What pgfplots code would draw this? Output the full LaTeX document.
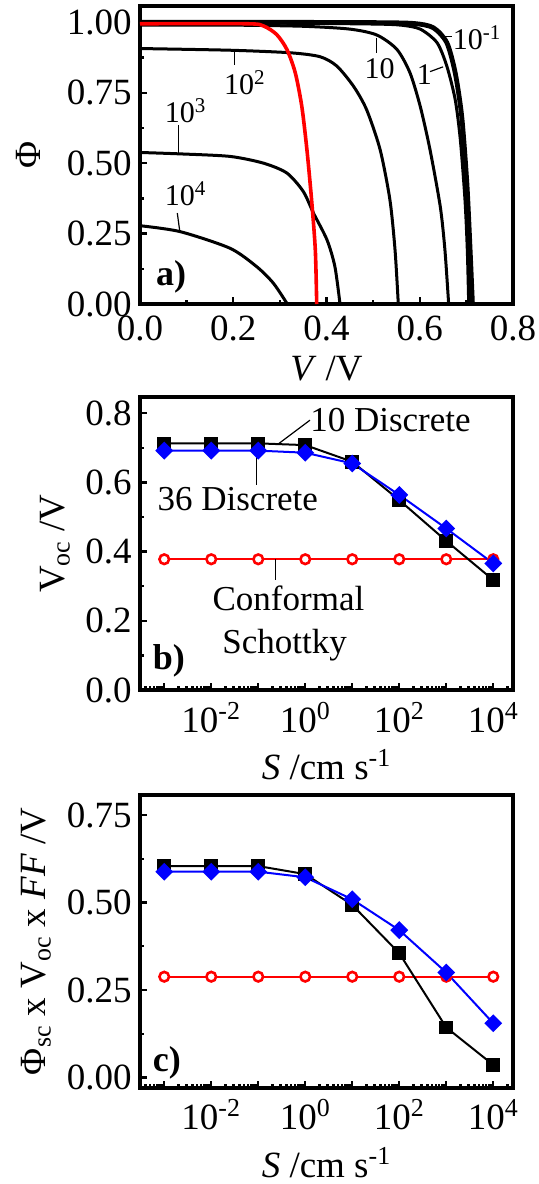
\documentclass[border=0pt]{standalone}
\usepackage{fontspec}
\setmainfont{Liberation Serif}
\usepackage{pgfplots}
\usepackage{pgfplotstable}
\pgfplotsset{compat=1.18}

% open-circuit voltage vs surface recombination velocity (panel b)
\pgfplotstableread{
S      d10    d36    conf
0.001  0.713  0.692  0.378
0.01   0.713  0.692  0.378
0.1    0.713  0.692  0.378
1      0.708  0.686  0.378
10     0.660  0.655  0.378
100    0.549  0.564  0.378
1000   0.431  0.467  0.378
10000  0.318  0.366  0.378
}\vocdata

% Phi_sc x Voc x FF (panel c)
\pgfplotstableread{
S      d10    d36    conf
0.001  0.604  0.588  0.288
0.01   0.604  0.588  0.288
0.1    0.604  0.588  0.288
1      0.581  0.572  0.288
10     0.493  0.509  0.288
100    0.355  0.421  0.288
1000   0.143  0.300  0.288
10000  0.036  0.155  0.288
}\effdata

\newcommand{\tkfont}{\fontsize{18.5}{21}\selectfont}
\newcommand{\anfont}{\fontsize{15}{17}\selectfont}
\newcommand{\bnfont}{\fontsize{17.5}{20}\selectfont}

\pgfplotsset{
  panel/.style={
    scale only axis, width=186.5pt,
    axis line style={line width=2pt},
    tick align=inside, tick pos=left,
    major tick length=3.5pt, minor tick length=1.8pt,
    every tick/.append style={black, line width=1.2pt},
    tick label style={font=\tkfont},
    /pgf/number format/assume math mode=true,
    yticklabel style={anchor=east, inner sep=0pt, xshift=-4pt},
  },
  logpanel/.style={
    panel,
    xmin=3.05e-4, xmax=2.63e4,
    xtick={1e-3,1e-2,1e-1,1,10,100,1000,10000},
    xticklabels={,10\textsuperscript{-2},,10\textsuperscript{0},,10\textsuperscript{2},,10\textsuperscript{4}},
    minor xtick={4e-4,5e-4,6e-4,7e-4,8e-4,9e-4,
      2e-3,3e-3,4e-3,5e-3,6e-3,7e-3,8e-3,9e-3,
      2e-2,3e-2,4e-2,5e-2,6e-2,7e-2,8e-2,9e-2,
      0.2,0.3,0.4,0.5,0.6,0.7,0.8,0.9,
      2,3,4,5,6,7,8,9,20,30,40,50,60,70,80,90,
      200,300,400,500,600,700,800,900,
      2000,3000,4000,5000,6000,7000,8000,9000,20000},
    xticklabel style={anchor=base, inner sep=0pt, yshift=-21pt},
    xlabel={\textit{S} /cm s\textsuperscript{-1}},
  },
  xlab/.style={every axis x label/.style={at={(axis description cs:0.5,#1)}, anchor=base, font=\tkfont}},
  ylab/.style={every axis y label/.style={at={(axis description cs:#1,0.5)}, rotate=90, anchor=center, font=\tkfont}},
  blk/.style={black, line width=1pt, mark=square*, mark size=2.9pt},
  blu/.style={blue, line width=1pt, mark=square*, mark size=2.65pt,
    mark options={rotate=45, fill=blue}},
  rcirc/.style={red, line width=1pt, mark=*, mark size=2.4pt,
    mark options={fill=white, line width=1.3pt}},
  jv/.style={black, line width=1.5pt, smooth, tension=0.45, no marks},
}

\begin{document}
\begin{tikzpicture}
\path[use as bounding box] (0pt,0pt) rectangle (269.5pt,-592pt);

% ---------- a) ----------
\begin{axis}[panel, at={(70pt,-152pt)}, anchor=south west, height=149pt,
  xmin=0, xmax=0.8, ymin=0, ymax=1.058,
  xtick={0,0.2,0.4,0.6,0.8}, minor xtick={0.1,0.3,0.5,0.7},
  ytick={0,0.25,0.5,0.75,1}, minor ytick={0.125,0.375,0.625,0.875},
  xticklabel style={anchor=base, inner sep=0pt, yshift=-18pt,
    /pgf/number format/.cd, fixed, fixed zerofill, precision=1},
  yticklabel style={/pgf/number format/.cd, fixed, fixed zerofill, precision=2},
  xlabel={\textit{V} /V}, ylabel={Φ},
  xlab=-0.258, ylab=-0.298,
]
\addplot[jv, line width=2.4pt] coordinates {
  (0,1.0) (0.3,1.0) (0.5,0.999) (0.587,0.996) (0.629,0.981) (0.658,0.928)
  (0.676,0.821) (0.690,0.666) (0.701,0.43) (0.708,0.192) (0.713,0)};
\addplot[jv] coordinates {
  (0,0.998) (0.3,0.997) (0.5,0.994) (0.560,0.99) (0.601,0.976) (0.637,0.928)
  (0.658,0.845) (0.676,0.726) (0.687,0.584) (0.697,0.37) (0.702,0.192) (0.705,0)};
\addplot[jv] coordinates {
  (0,0.99) (0.2,0.99) (0.35,0.986) (0.45,0.976) (0.508,0.955) (0.551,0.904)
  (0.579,0.821) (0.601,0.702) (0.622,0.548) (0.644,0.346) (0.654,0.192) (0.662,0)};
\addplot[jv] coordinates {
  (0,0.907) (0.193,0.901) (0.322,0.892) (0.386,0.878) (0.422,0.845) (0.458,0.773)
  (0.486,0.69) (0.515,0.548) (0.536,0.37) (0.547,0.192) (0.554,0)};
\addplot[jv] coordinates {
  (0,0.538) (0.086,0.533) (0.193,0.524) (0.265,0.50) (0.315,0.465) (0.35,0.40)
  (0.372,0.323) (0.401,0.228) (0.418,0.133) (0.429,0)};
\addplot[jv] coordinates {
  (0,0.278) (0.086,0.257) (0.193,0.198) (0.25,0.133) (0.286,0.074) (0.316,0)};
\addplot[red, line width=1.8pt, smooth, tension=0.45, no marks] coordinates {
  (0,0.995) (0.229,0.995) (0.265,0.987) (0.293,0.957) (0.315,0.904) (0.333,0.821)
  (0.347,0.702) (0.358,0.548) (0.368,0.37) (0.376,0.192) (0.379,0)};

\draw[line width=0.6pt] (axis cs:0.646,0.949) -- (axis cs:0.670,0.949);
\node[font=\anfont, anchor=west, inner sep=0pt] at (axis cs:0.670,0.945) {10\textsuperscript{-1}};
\draw[line width=0.6pt] (axis cs:0.622,0.825) -- (axis cs:0.650,0.842);
\node[font=\anfont, inner sep=0pt] at (axis cs:0.610,0.815) {1};
\draw[line width=0.6pt] (axis cs:0.508,0.945) -- (axis cs:0.508,0.89);
\node[font=\anfont, inner sep=0pt] at (axis cs:0.514,0.834) {10};
\draw[line width=0.6pt] (axis cs:0.203,0.898) -- (axis cs:0.203,0.848);
\node[font=\anfont, inner sep=0pt] at (axis cs:0.225,0.785) {10\textsuperscript{2}};
\draw[line width=0.6pt] (axis cs:0.082,0.635) -- (axis cs:0.082,0.534);
\node[font=\anfont, inner sep=0pt] at (axis cs:0.098,0.687) {10\textsuperscript{3}};
\draw[line width=0.6pt] (axis cs:0.080,0.323) -- (axis cs:0.085,0.262);
\node[font=\anfont, inner sep=0pt] at (axis cs:0.098,0.392) {10\textsuperscript{4}};
\node[font=\fontsize{18}{20}\selectfont\bfseries, inner sep=0pt] at (axis cs:0.067,0.098) {a)};
\end{axis}

% ---------- b) ----------
\begin{semilogxaxis}[logpanel, at={(70pt,-345pt)}, anchor=south west, height=146.5pt,
  ymin=0, ymax=0.847,
  ytick={0,0.2,0.4,0.6,0.8}, minor ytick={0.1,0.3,0.5,0.7},
  yticklabel style={/pgf/number format/.cd, fixed, fixed zerofill, precision=1},
  ylabel={V\textsubscript{oc} /V},
  xlab=-0.305, ylab=-0.228,
]
\addplot[rcirc] table[x=S, y=conf] {\vocdata};
\addplot[blk] table[x=S, y=d10] {\vocdata};
\addplot[blu] table[x=S, y=d36] {\vocdata};

\draw[line width=0.6pt] (axis cs:0.277,0.713) -- (axis cs:1.26,0.78);
\node[font=\bnfont, anchor=base west, inner sep=0pt] at (axis cs:1.26,0.747) {10 Discrete};
\draw[line width=0.6pt] (axis cs:0.093,0.679) -- (axis cs:0.093,0.592);
\node[font=\bnfont, anchor=base west, inner sep=0pt] at (axis cs:7.1e-4,0.52) {36 Discrete};
\draw[line width=0.6pt] (axis cs:0.234,0.378) -- (axis cs:0.234,0.318);
\node[font=\bnfont, anchor=base west, inner sep=0pt] at (axis cs:0.0105,0.231) {Conformal};
\node[font=\bnfont, anchor=base west, inner sep=0pt] at (axis cs:0.017,0.106) {Schottky};
\node[font=\fontsize{18}{20}\selectfont\bfseries, anchor=base west, inner sep=0pt] at (axis cs:5.6e-4,0.058) {b)};
\end{semilogxaxis}

% ---------- c) ----------
\begin{semilogxaxis}[logpanel, at={(70pt,-543.75pt)}, anchor=south west, height=146.25pt,
  ymin=-0.0286, ymax=0.807,
  ytick={0,0.25,0.5,0.75}, minor ytick={0.125,0.375,0.625},
  yticklabel style={/pgf/number format/.cd, fixed, fixed zerofill, precision=2},
  ylabel={Φ\textsubscript{sc} x V\textsubscript{oc} x \textit{FF} /V},
  xlab=-0.307, ylab=-0.279,
]
\addplot[rcirc] table[x=S, y=conf] {\effdata};
\addplot[blk] table[x=S, y=d10] {\effdata};
\addplot[blu] table[x=S, y=d36] {\effdata};

\node[font=\fontsize{18}{20}\selectfont\bfseries, anchor=base west, inner sep=0pt] at (axis cs:5.6e-4,0.017) {c)};
\end{semilogxaxis}
\end{tikzpicture}
\end{document}
